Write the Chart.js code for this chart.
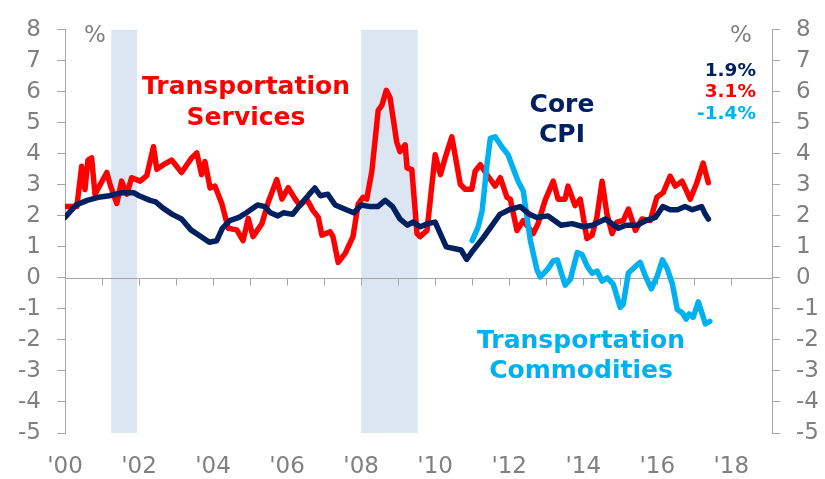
<!DOCTYPE html>
<html>
<head>
<meta charset="utf-8">
<script src="https://cdn.jsdelivr.net/npm/chart.js@4.4.1/dist/chart.umd.min.js"></script>
<style>
  body { margin: 0; background: #fff; }
  #wrap { width: 825px; height: 479px; }
</style>
</head>
<body>
<div id="wrap"><canvas id="c1"></canvas></div>
<script>
// Core CPI, y/y % (decimal years)
const coreYears = [2000.0, 2000.3, 2000.6, 2000.9, 2001.2, 2001.55, 2001.85, 2002.0, 2002.3, 2002.45,
  2002.65, 2002.9, 2003.15, 2003.4, 2003.65, 2003.9, 2004.1, 2004.25, 2004.45, 2004.7,
  2004.9, 2005.2, 2005.4, 2005.55, 2005.75, 2005.9, 2006.15, 2006.35, 2006.6, 2006.75,
  2006.9, 2007.1, 2007.3, 2007.6, 2007.8, 2008.0, 2008.25, 2008.45, 2008.65, 2008.85,
  2009.05, 2009.25, 2009.4, 2009.6, 2009.8, 2010.0, 2010.3, 2010.7, 2010.85, 2011.0,
  2011.3, 2011.75, 2012.0, 2012.3, 2012.55, 2012.75, 2013.05, 2013.4, 2013.7, 2014.0,
  2014.25, 2014.6, 2014.95, 2015.15, 2015.45, 2015.7, 2015.95, 2016.15, 2016.35, 2016.55,
  2016.75, 2016.95, 2017.2, 2017.3, 2017.38];
const coreValues = [1.95, 2.35, 2.5, 2.6, 2.65, 2.75, 2.75, 2.65, 2.5, 2.45,
  2.25, 2.05, 1.9, 1.55, 1.35, 1.15, 1.2, 1.6, 1.85, 1.95,
  2.1, 2.35, 2.3, 2.1, 2.0, 2.1, 2.05, 2.35, 2.7, 2.9,
  2.65, 2.7, 2.35, 2.2, 2.1, 2.35, 2.3, 2.3, 2.5, 2.3,
  1.9, 1.7, 1.8, 1.65, 1.75, 1.8, 1.0, 0.9, 0.6, 0.85,
  1.3, 2.05, 2.2, 2.3, 2.05, 1.95, 2.0, 1.7, 1.75, 1.65,
  1.7, 1.9, 1.6, 1.7, 1.7, 1.85, 1.95, 2.3, 2.2, 2.2,
  2.3, 2.2, 2.3, 2.05, 1.9];

// Transportation services
const servYears = [2000.0, 2000.32, 2000.45, 2000.54, 2000.62, 2000.72, 2000.81, 2001.13, 2001.22, 2001.4,
  2001.53, 2001.67, 2001.8, 2002.03, 2002.21, 2002.39, 2002.48, 2002.66, 2002.88, 2003.15,
  2003.42, 2003.56, 2003.69, 2003.78, 2003.92, 2004.05, 2004.24, 2004.41, 2004.64, 2004.81,
  2004.95, 2005.08, 2005.32, 2005.49, 2005.72, 2005.86, 2006.03, 2006.22, 2006.35, 2006.53,
  2006.7, 2006.84, 2006.94, 2007.16, 2007.24, 2007.38, 2007.57, 2007.78, 2007.92, 2008.05,
  2008.15, 2008.29, 2008.46, 2008.56, 2008.68, 2008.78, 2008.96, 2009.05, 2009.19, 2009.24,
  2009.37, 2009.51, 2009.59, 2009.78, 2010.0, 2010.14, 2010.27, 2010.45, 2010.68, 2010.81,
  2010.99, 2011.08, 2011.22, 2011.43, 2011.62, 2011.76, 2011.94, 2012.03, 2012.21, 2012.38,
  2012.65, 2012.78, 2012.97, 2013.19, 2013.32, 2013.51, 2013.59, 2013.78, 2013.92, 2014.1,
  2014.24, 2014.37, 2014.51, 2014.64, 2014.78, 2014.91, 2015.08, 2015.22, 2015.41, 2015.59,
  2015.81, 2015.99, 2016.16, 2016.35, 2016.49, 2016.67, 2016.89, 2017.07, 2017.24, 2017.38];
const servValues = [2.3, 2.3, 3.6, 2.85, 3.8, 3.87, 2.7, 3.4, 3.0, 2.4,
  3.12, 2.7, 3.23, 3.12, 3.3, 4.23, 3.5, 3.65, 3.8, 3.4,
  3.87, 4.03, 3.33, 3.75, 2.9, 2.96, 2.38, 1.6, 1.55, 1.2,
  1.92, 1.33, 1.75, 2.44, 3.17, 2.54, 2.91, 2.54, 2.33, 2.54,
  2.17, 1.96, 1.38, 1.49, 1.33, 0.5, 0.79, 1.33, 2.38, 2.6,
  2.54, 3.44, 5.4, 5.56, 6.05, 5.82, 4.39, 4.07, 4.29, 3.55,
  3.49, 1.43, 1.33, 1.53, 3.97, 3.33, 3.87, 4.55, 3.02, 2.86,
  2.86, 3.44, 3.65, 3.28, 2.96, 3.23, 2.6, 2.54, 1.53, 1.85,
  1.43, 1.75, 2.5, 3.12, 2.54, 2.54, 2.96, 2.33, 2.54, 1.27,
  1.38, 1.96, 3.12, 2.06, 1.43, 1.8, 1.85, 2.22, 1.53, 1.9,
  1.85, 2.6, 2.75, 3.28, 2.96, 3.12, 2.54, 3.07, 3.7, 3.07];

// Transportation commodities
const commYears = [2011.0, 2011.16, 2011.27, 2011.4, 2011.49, 2011.62, 2011.8, 2011.97, 2012.07, 2012.24,
  2012.38, 2012.57, 2012.75, 2012.84, 2013.05, 2013.19, 2013.3, 2013.51, 2013.65, 2013.84,
  2013.97, 2014.11, 2014.24, 2014.38, 2014.51, 2014.65, 2014.81, 2015.0, 2015.08, 2015.22,
  2015.41, 2015.54, 2015.68, 2015.84, 2016.0, 2016.14, 2016.27, 2016.41, 2016.54, 2016.68,
  2016.78, 2016.86, 2016.97, 2017.11, 2017.3, 2017.42];
const commValues = [1.2, 1.64, 2.17, 3.65, 4.5, 4.55, 4.23, 3.97, 3.65, 3.12,
  2.8, 1.22, 0.26, 0.03, 0.3, 0.55, 0.58, -0.23, -0.05, 0.82,
  0.75, 0.37, 0.15, 0.22, -0.1, 0.0, -0.2, -0.95, -0.85, 0.16,
  0.37, 0.5, 0.06, -0.35, 0.06, 0.58, 0.3, -0.2, -1.02, -1.13,
  -1.33, -1.16, -1.27, -0.77, -1.48, -1.4];

// recession shading (start, end)
const recessions = [[2001.25, 2001.95], [2008.0, 2009.53]];

// axis labels
const yTicks = [8, 7, 6, 5, 4, 3, 2, 1, 0, -1, -2, -3, -4, -5];
const xTickYears = [2000, 2002, 2004, 2006, 2008, 2010, 2012, 2014, 2016, 2018];
const xTickLabels = ["'00", "'02", "'04", "'06", "'08", "'10", "'12", "'14", "'16", "'18"];

const navy = '#002060';
const red = '#ff0000';
const cyan = '#00b0f0';
const gray = '#808080';
const axisGray = '#a6a6a6';
const font = '"DejaVu Sans", Verdana, sans-serif';

const toPoints = (xs, ys) => xs.map((x, i) => ({x: x, y: ys[i]}));

const decor = {
    id: 'decor',
    beforeDatasetsDraw(chart) {
        const {ctx, chartArea, scales} = chart;
        const x = scales.x, y = scales.y;
        ctx.save();
        ctx.fillStyle = '#dce6f2';
        recessions.forEach(r => {
            const x1 = x.getPixelForValue(r[0]);
            const x2 = x.getPixelForValue(r[1]);
            ctx.fillRect(x1, chartArea.top, x2 - x1, chartArea.bottom - chartArea.top);
        });
        // zero line with year ticks
        const y0 = Math.round(y.getPixelForValue(0)) + 0.5;
        ctx.strokeStyle = axisGray;
        ctx.lineWidth = 1;
        ctx.beginPath();
        ctx.moveTo(chartArea.left, y0);
        ctx.lineTo(chartArea.right, y0);
        for (let yr = 2000; yr <= 2018; yr++) {
            const px = Math.round(x.getPixelForValue(yr)) + 0.5;
            ctx.moveTo(px, y0);
            ctx.lineTo(px, y0 + 7);
        }
        ctx.stroke();
        ctx.restore();
    },
    afterDatasetsDraw(chart) {
        const ctx = chart.ctx;
        const big = 'bold 25px ' + font;
        const small = 'bold 18.5px ' + font;
        const texts = [
            {t: '%', x: 95, y: 42, c: gray, f: '23px ' + font, a: 'center'},
            {t: '%', x: 741, y: 42, c: gray, f: '23px ' + font, a: 'center'},
            {t: 'Transportation', x: 246, y: 94, c: red, f: big, a: 'center'},
            {t: 'Services', x: 246, y: 125, c: red, f: big, a: 'center'},
            {t: 'Core', x: 562, y: 112, c: navy, f: big, a: 'center'},
            {t: 'CPI', x: 562, y: 142, c: navy, f: big, a: 'center'},
            {t: '1.9%', x: 756, y: 76, c: navy, f: small, a: 'right'},
            {t: '3.1%', x: 756, y: 97, c: red, f: small, a: 'right'},
            {t: '-1.4%', x: 756, y: 119, c: cyan, f: small, a: 'right'},
            {t: 'Transportation', x: 581, y: 348, c: cyan, f: big, a: 'center'},
            {t: 'Commodities', x: 581, y: 378, c: cyan, f: big, a: 'center'}
        ];
        ctx.save();
        ctx.textBaseline = 'alphabetic';
        texts.forEach(o => {
            ctx.font = o.f;
            ctx.fillStyle = o.c;
            ctx.textAlign = o.a;
            ctx.fillText(o.t, o.x, o.y);
        });
        ctx.restore();
    }
};

const lineDs = (label, pts, color) => ({
    label: label,
    data: pts,
    borderColor: color,
    borderWidth: 5.5,
    pointRadius: 0,
    tension: 0,
    fill: false,
    borderJoinStyle: 'round',
    borderCapStyle: 'round'
});

const yAxis = (pos, w) => ({
    type: 'linear',
    position: pos,
    min: -5,
    max: 8,
    afterFit: s => { s.width = w; },
    afterBuildTicks: s => { s.ticks = yTicks.map(v => ({value: v})); },
    grid: {drawOnChartArea: false, color: axisGray, tickLength: 8},
    border: {color: axisGray},
    ticks: {color: gray, font: {family: font, size: 23}, padding: 16}
});

new Chart(document.getElementById('c1'), {
    type: 'line',
    data: {
        datasets: [
            lineDs('Core CPI', toPoints(coreYears, coreValues), navy),
            lineDs('Transportation Commodities', toPoints(commYears, commValues), cyan),
            lineDs('Transportation Services', toPoints(servYears, servValues), red)
        ]
    },
    options: {
        responsive: true,
        maintainAspectRatio: false,
        animation: false,
        layout: {padding: {top: 22, left: 0, right: 0, bottom: 0}},
        plugins: {legend: {display: false}, tooltip: {enabled: false}},
        scales: {
            x: {
                type: 'linear',
                min: 2000,
                max: 2019.1,
                afterFit: s => { s.height = 46; },
                afterBuildTicks: s => { s.ticks = xTickYears.map(v => ({value: v})); },
                grid: {display: false},
                border: {display: false},
                ticks: {
                    color: gray,
                    font: {family: font, size: 23},
                    padding: 12,
                    maxRotation: 0,
                    autoSkip: false,
                    callback: v => xTickLabels[xTickYears.indexOf(v)]
                }
            },
            y: yAxis('left', 65),
            y2: yAxis('right', 53)
        }
    },
    plugins: [decor]
});
</script>
</body>
</html>
